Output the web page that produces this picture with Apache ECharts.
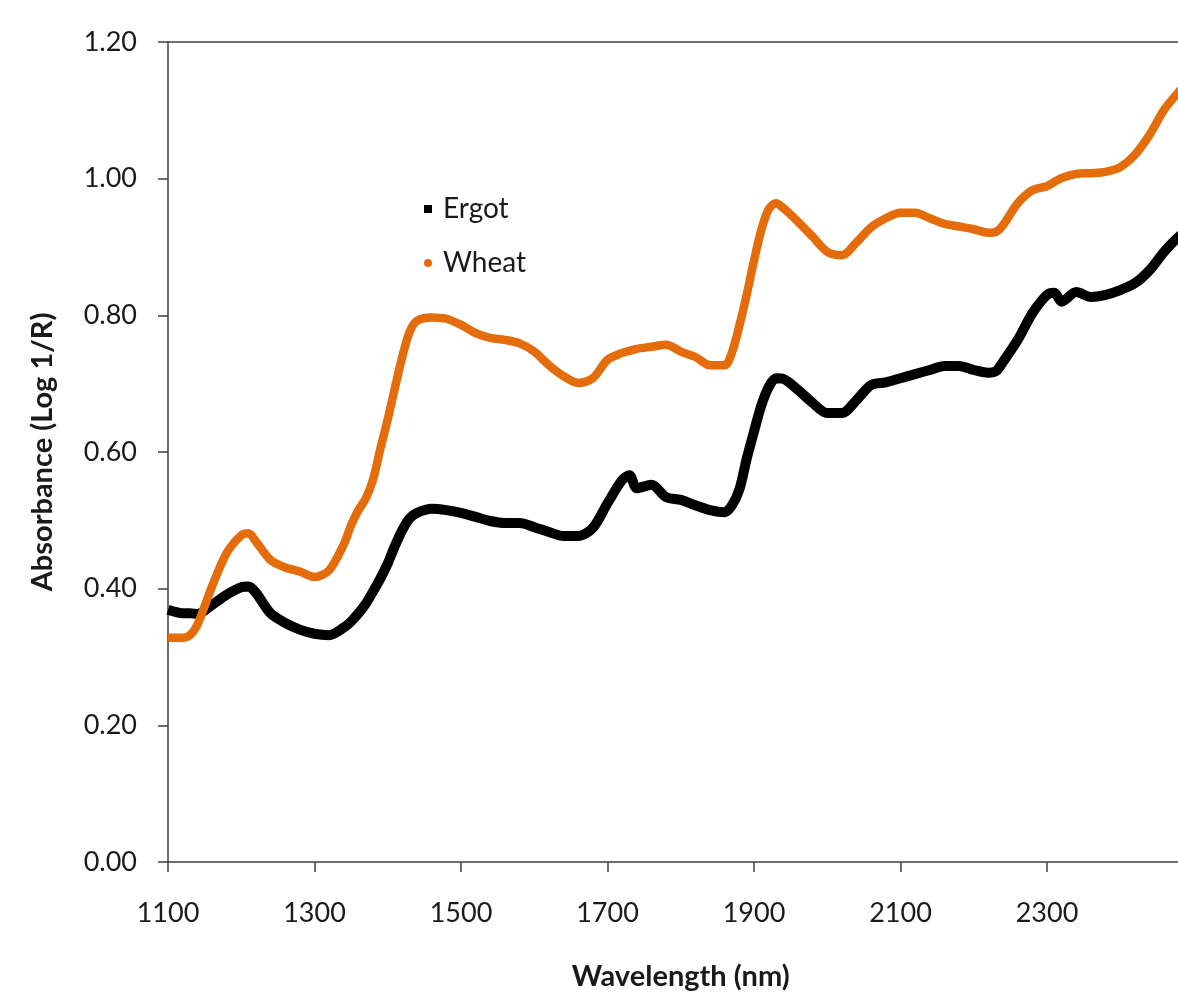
<!DOCTYPE html>
<html>
<head>
<meta charset="utf-8">
<title>NIR spectra: Ergot vs Wheat</title>
<script src="https://cdn.jsdelivr.net/npm/echarts@6/dist/echarts.min.js"></script>
<style>
  html, body { margin: 0; padding: 0; background: #ffffff; }
  #chart { width: 1178px; height: 998px; }
</style>
</head>
<body>
<div id="chart"></div>
<script>
// Wavelengths (nm) at which the spectra are sampled
const wavelengths = [
  1100, 1120, 1130, 1140, 1160, 1180, 1200, 1210, 1220, 1240, 1260, 1280, 1300,
  1320, 1340, 1350, 1360, 1370, 1380, 1390, 1400, 1410, 1420, 1430, 1440, 1460,
  1480, 1500, 1520, 1540, 1560, 1580, 1600, 1620, 1640, 1660, 1680, 1700, 1720,
  1730, 1740, 1760, 1780, 1800, 1820, 1840, 1860, 1870, 1880, 1890, 1900, 1910,
  1920, 1930, 1940, 1960, 1980, 2000, 2020, 2040, 2060, 2080, 2100, 2120, 2140,
  2160, 2180, 2200, 2220, 2230, 2240, 2260, 2280, 2300, 2310, 2320, 2340, 2360,
  2380, 2400, 2420, 2440, 2460, 2480, 2500
];

// Absorbance (log 1/R) of ergot sclerotia
const ergot = [
  0.369, 0.364, 0.364, 0.363, 0.376, 0.391, 0.402, 0.403, 0.394, 0.364, 0.350, 0.340, 0.334,
  0.332, 0.343, 0.352, 0.364, 0.378, 0.396, 0.415, 0.437, 0.463, 0.486, 0.503, 0.511, 0.517,
  0.515, 0.511, 0.505, 0.499, 0.496, 0.496, 0.490, 0.483, 0.477, 0.477, 0.489, 0.525, 0.559,
  0.566, 0.547, 0.552, 0.534, 0.530, 0.522, 0.515, 0.512, 0.522, 0.545, 0.590, 0.630, 0.668,
  0.695, 0.708, 0.707, 0.691, 0.672, 0.657, 0.657, 0.676, 0.698, 0.702, 0.708, 0.714, 0.720,
  0.726, 0.726, 0.720, 0.716, 0.718, 0.732, 0.764, 0.803, 0.830, 0.833, 0.820, 0.834, 0.827,
  0.830, 0.837, 0.847, 0.866, 0.893, 0.915, 0.930
];

// Absorbance (log 1/R) of wheat kernels
const wheat = [
  0.328, 0.328, 0.332, 0.347, 0.403, 0.452, 0.478, 0.481, 0.469, 0.442, 0.431, 0.425, 0.417,
  0.427, 0.465, 0.493, 0.515, 0.532, 0.560, 0.605, 0.648, 0.695, 0.740, 0.776, 0.792, 0.797,
  0.795, 0.786, 0.774, 0.767, 0.764, 0.759, 0.747, 0.727, 0.711, 0.701, 0.708, 0.735, 0.745,
  0.748, 0.751, 0.754, 0.757, 0.747, 0.739, 0.727, 0.727, 0.746, 0.785, 0.830, 0.880, 0.925,
  0.955, 0.964, 0.957, 0.937, 0.915, 0.893, 0.888, 0.907, 0.929, 0.942, 0.950, 0.950, 0.942,
  0.934, 0.930, 0.926, 0.921, 0.922, 0.932, 0.964, 0.983, 0.989, 0.995, 1.001, 1.007, 1.008,
  1.010, 1.017, 1.035, 1.064, 1.101, 1.127, 1.150
];

const seriesNames = ['Ergot', 'Wheat'];
const seriesColors = ['#000000', '#E46C0A'];

const toPairs = (ys) => wavelengths.map((w, i) => [w, ys[i]]);

const axisColor = '#404040';
const textColor = '#1a1a1a';
const fontFamily = 'Lato, "Open Sans", "Liberation Sans", sans-serif';

const chart = echarts.init(document.getElementById('chart'), null, { renderer: 'canvas' });

chart.setOption({
  backgroundColor: '#ffffff',
  animation: false,
  textStyle: { fontFamily: fontFamily, color: textColor },
  grid: { left: 168, top: 42, bottom: 136, right: -15.5, outerBoundsMode: 'none', containLabel: false },
  legend: {
    orient: 'vertical',
    left: 419,
    top: 190,
    itemGap: 26,
    itemWidth: 8,
    itemHeight: 8,
    textStyle: { fontSize: 28, color: textColor, fontFamily: fontFamily, padding: [0, 0, 0, 6] },
    data: [
      { name: seriesNames[0], icon: 'rect' },
      { name: seriesNames[1], icon: 'circle' }
    ]
  },
  xAxis: [
    {
      type: 'value',
      min: 1100,
      max: 2500,
      interval: 200,
      name: 'Wavelength (nm)',
      nameLocation: 'middle',
      nameGap: 100,
      nameTextStyle: { fontSize: 29, fontWeight: 'bold', color: textColor },
      axisLine: { show: true, onZero: false, lineStyle: { color: axisColor, width: 1.5 } },
      axisTick: { show: true, inside: false, length: 10, lineStyle: { color: axisColor, width: 1.5 } },
      axisLabel: {
        fontSize: 27,
        color: textColor,
        margin: 38,
        showMaxLabel: false,
        formatter: (v) => String(v)
      },
      splitLine: { show: false }
    },
    {
      type: 'value',
      position: 'top',
      min: 1100,
      max: 2500,
      axisLine: { show: true, onZero: false, lineStyle: { color: axisColor, width: 1.5 } },
      axisTick: { show: false },
      axisLabel: { show: false },
      splitLine: { show: false }
    }
  ],
  yAxis: {
    type: 'value',
    min: 0,
    max: 1.2,
    interval: 0.2,
    name: 'Absorbance (Log 1/R)',
    nameLocation: 'middle',
    nameGap: 111,
    nameRotate: 90,
    nameTextStyle: { fontSize: 29, fontWeight: 'bold', color: textColor },
    axisLine: { show: true, onZero: false, lineStyle: { color: axisColor, width: 1.5 } },
    axisTick: { show: true, inside: false, length: 10, lineStyle: { color: axisColor, width: 1.5 } },
    axisLabel: {
      fontSize: 27,
      color: textColor,
      margin: 31,
      formatter: (v) => v.toFixed(2)
    },
    splitLine: { show: false }
  },
  series: [
    {
      name: seriesNames[0],
      type: 'line',
      data: toPairs(ergot),
      smooth: 0.3,
      showSymbol: false,
      clip: false,
      color: seriesColors[0],
      lineStyle: { color: seriesColors[0], width: 10 },
      z: 2
    },
    {
      name: seriesNames[1],
      type: 'line',
      data: toPairs(wheat),
      smooth: 0.3,
      showSymbol: false,
      clip: false,
      color: seriesColors[1],
      lineStyle: { color: seriesColors[1], width: 8.5 },
      z: 3
    }
  ]
});
</script>
</body>
</html>
